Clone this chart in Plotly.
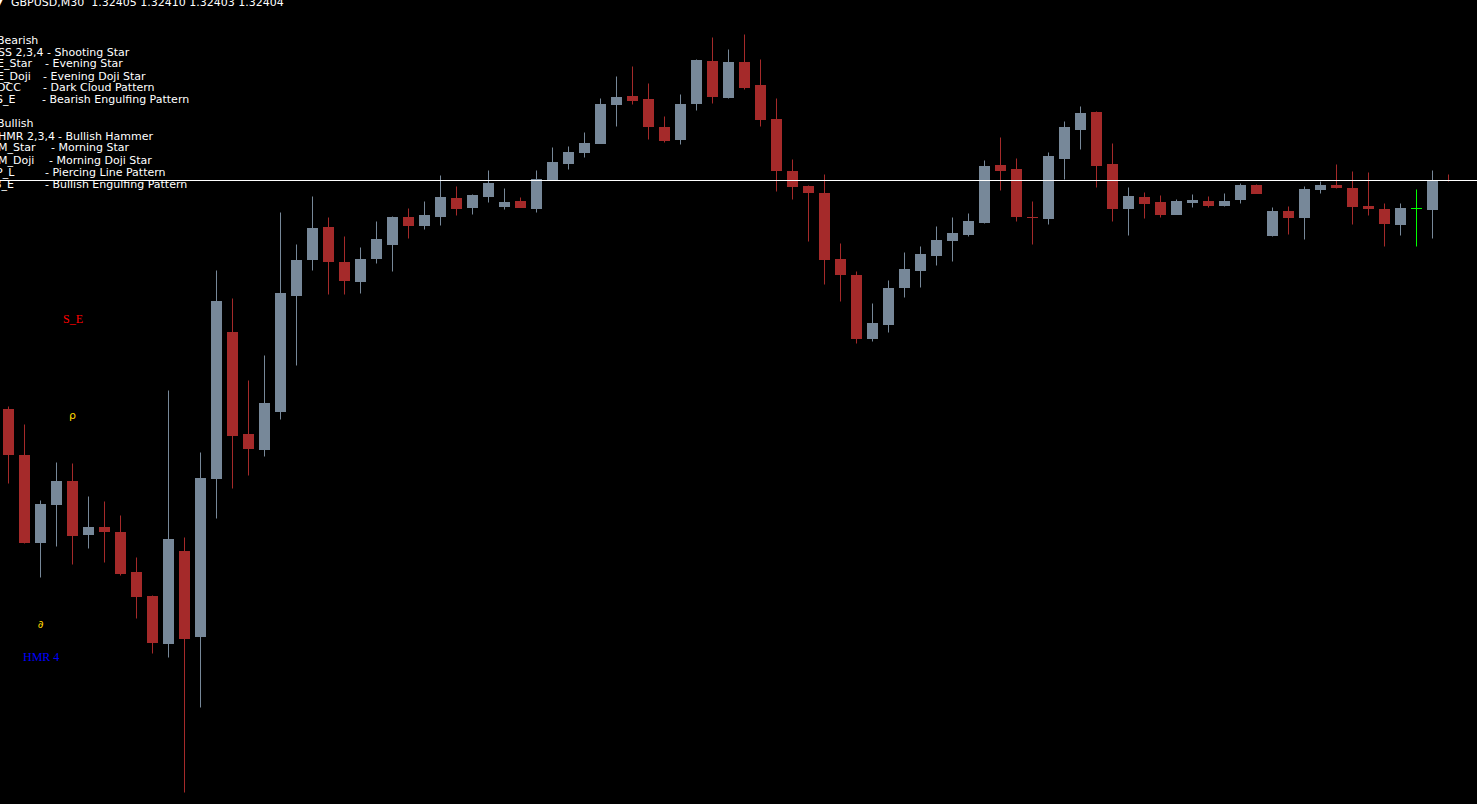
import plotly.graph_objects as go

# ---------------- data (GBPUSD, M30) ----------------
symbol = "GBPUSD,M30"

opens = [1.32176, 1.32130, 1.32042, 1.32080, 1.32104, 1.32050, 1.32058, 1.32053, 1.32013, 1.31989,
         1.31941, 1.32034, 1.31948, 1.32106, 1.32253, 1.32151, 1.32135, 1.32173, 1.32289, 1.32325,
         1.32358, 1.32323, 1.32303, 1.32326, 1.32340, 1.32368, 1.32359, 1.32368, 1.32387, 1.32377,
         1.32388, 1.32378, 1.32384, 1.32376, 1.32405, 1.32421, 1.32432, 1.32441, 1.32480, 1.32489,
         1.32486, 1.32458, 1.32445, 1.32481, 1.32524, 1.32487, 1.32523, 1.32500, 1.32466, 1.32414,
         1.32399, 1.32392, 1.32326, 1.32310, 1.32246, 1.32260, 1.32297, 1.32314, 1.32329, 1.32344,
         1.32350, 1.32362, 1.32420, 1.32416, 1.32368, 1.32366, 1.32426, 1.32455, 1.32473, 1.32421,
         1.32376, 1.32388, 1.32383, 1.32370, 1.32382, 1.32384, 1.32379, 1.32385, 1.32400, 1.32349,
         1.32374, 1.32367, 1.32395, 1.32400, 1.32397, 1.32379, 1.32376, 1.32360, 1.32376, 1.32375,
         1.32405]

highs = [1.32178, 1.32160, 1.32084, 1.32122, 1.32121, 1.32088, 1.32083, 1.32069, 1.32027, 1.31989,
         1.32194, 1.32047, 1.32132, 1.32314, 1.32286, 1.32204, 1.32229, 1.32372, 1.32340, 1.32388,
         1.32367, 1.32348, 1.32337, 1.32363, 1.32368, 1.32376, 1.32383, 1.32409, 1.32398, 1.32390,
         1.32414, 1.32396, 1.32387, 1.32414, 1.32437, 1.32438, 1.32452, 1.32486, 1.32508, 1.32518,
         1.32501, 1.32468, 1.32490, 1.32525, 1.32547, 1.32535, 1.32550, 1.32525, 1.32486, 1.32425,
         1.32399, 1.32410, 1.32341, 1.32313, 1.32281, 1.32304, 1.32332, 1.32338, 1.32358, 1.32367,
         1.32371, 1.32424, 1.32447, 1.32426, 1.32383, 1.32432, 1.32463, 1.32478, 1.32473, 1.32441,
         1.32397, 1.32392, 1.32389, 1.32385, 1.32390, 1.32388, 1.32391, 1.32401, 1.32400, 1.32377,
         1.32378, 1.32398, 1.32403, 1.32420, 1.32413, 1.32412, 1.32381, 1.32381, 1.32395, 1.32414,
         1.32410]

lows = [1.32101, 1.32041, 1.32007, 1.32038, 1.32020, 1.32036, 1.32022, 1.32009, 1.31966, 1.31931,
        1.31927, 1.31792, 1.31877, 1.32066, 1.32096, 1.32109, 1.32128, 1.32165, 1.32219, 1.32314,
        1.32290, 1.32290, 1.32291, 1.32321, 1.32313, 1.32346, 1.32355, 1.32359, 1.32369, 1.32370,
        1.32382, 1.32375, 1.32377, 1.32372, 1.32405, 1.32415, 1.32427, 1.32441, 1.32458, 1.32480,
        1.32445, 1.32442, 1.32440, 1.32474, 1.32481, 1.32486, 1.32495, 1.32458, 1.32393, 1.32385,
        1.32343, 1.32300, 1.32283, 1.32241, 1.32243, 1.32252, 1.32287, 1.32297, 1.32319, 1.32323,
        1.32348, 1.32361, 1.32394, 1.32363, 1.32340, 1.32360, 1.32405, 1.32435, 1.32397, 1.32363,
        1.32349, 1.32366, 1.32367, 1.32370, 1.32377, 1.32377, 1.32378, 1.32381, 1.32391, 1.32348,
        1.32350, 1.32345, 1.32391, 1.32396, 1.32360, 1.32369, 1.32338, 1.32349, 1.32338, 1.32346,
        1.32403]

closes = [1.32130, 1.32042, 1.32081, 1.32104, 1.32049, 1.32058, 1.32053, 1.32011, 1.31988, 1.31942,
          1.32046, 1.31946, 1.32107, 1.32284, 1.32149, 1.32136, 1.32182, 1.32292, 1.32325, 1.32357,
          1.32323, 1.32304, 1.32326, 1.32346, 1.32368, 1.32359, 1.32370, 1.32388, 1.32376, 1.32390,
          1.32402, 1.32383, 1.32377, 1.32406, 1.32423, 1.32433, 1.32442, 1.32481, 1.32488, 1.32484,
          1.32458, 1.32444, 1.32481, 1.32525, 1.32488, 1.32523, 1.32497, 1.32465, 1.32414, 1.32398,
          1.32392, 1.32325, 1.32310, 1.32246, 1.32262, 1.32297, 1.32316, 1.32331, 1.32345, 1.32352,
          1.32364, 1.32419, 1.32414, 1.32368, 1.32367, 1.32429, 1.32458, 1.32472, 1.32419, 1.32376,
          1.32389, 1.32381, 1.32370, 1.32384, 1.32385, 1.32379, 1.32384, 1.32400, 1.32391, 1.32374,
          1.32367, 1.32396, 1.32400, 1.32397, 1.32378, 1.32376, 1.32361, 1.32377, 1.32376, 1.32405,
          1.32404]

# pattern legend (indicator text)
legend_bearish_codes = ["SS 2,3,4", "E_Star", "E_Doji", "DCC", "S_E"]
legend_bearish_descs = ["- Shooting Star", "- Evening Star", "- Evening Doji Star",
                        "- Dark Cloud Pattern", "- Bearish Engulfing Pattern"]
legend_bullish_codes = ["HMR 2,3,4", "M_Star", "M_Doji", "P_L", "B_E"]
legend_bullish_descs = ["- Bullish Hammer", "- Morning Star", "- Morning Doji Star",
                        "- Piercing Line Pattern", "- Bullish Engulfing Pattern"]

# signals drawn on the chart
signal_labels = ["S_E", "HMR 4"]
signal_bars = [4, 2]
signal_prices = [1.32266, 1.31928]
signal_colors = ["#FF0000", "#0000FF"]
arrow_glyphs = ["\u03c1", "\u2202"]
arrow_bars = [4, 2]
arrow_prices = [1.32169, 1.31960]

# ---------------- styling ----------------
W, H = 1477, 804
BULL = "#778899"
BEAR = "#A52A2A"
DOJI = "#00FF00"
BODY_W = 11 / 16
X_RANGE = [-0.53125, 91.78125]
Y_RANGE = [1.317805, 1.325845]

n = len(opens)
idx = list(range(n))

fig = go.Figure()

wick = {BULL: ([], []), BEAR: ([], []), DOJI: ([], [])}
body_x, body_y, body_base, body_col = [], [], [], []
doji_x, doji_y = [], []
for i in idx:
    o, h, l, c = opens[i], highs[i], lows[i], closes[i]
    if round(c - o, 6) > 0:
        col = BULL
    elif round(c - o, 6) < 0:
        col = BEAR
    else:
        col = DOJI
    wick[col][0].extend([i, i, None])
    wick[col][1].extend([l, h, None])
    if col == DOJI:
        doji_x.extend([i - BODY_W / 2, i + BODY_W / 2, None])
        doji_y.extend([c, c, None])
    else:
        body_x.append(i)
        body_y.append(abs(c - o))
        body_base.append(min(o, c))
        body_col.append(col)

for col, (xs, ys) in wick.items():
    if xs:
        fig.add_trace(go.Scatter(x=xs, y=ys, mode="lines",
                                 line=dict(color=col, width=1),
                                 hoverinfo="skip", showlegend=False))

fig.add_trace(go.Bar(x=body_x, y=body_y, base=body_base, width=BODY_W,
                     marker=dict(color=body_col, line=dict(width=0)),
                     hoverinfo="skip", showlegend=False))

if doji_x:
    fig.add_trace(go.Scatter(x=doji_x, y=doji_y, mode="lines",
                             line=dict(color=DOJI, width=1),
                             hoverinfo="skip", showlegend=False))

# bid line
fig.add_shape(type="line", xref="paper", x0=0, x1=1, yref="y",
              y0=closes[-1], y1=closes[-1], line=dict(color="#FFFFFF", width=1))

annotations = []


def px_text(text, x_px, y_mid_px, color="#FFFFFF", size=11, family="DejaVu Sans", anchor="left"):
    annotations.append(dict(
        text=text, xref="paper", yref="paper",
        x=x_px / W, y=1 - y_mid_px / H,
        xanchor=anchor, yanchor="middle", showarrow=False,
        borderpad=0, borderwidth=0,
        font=dict(family=family, size=size, color=color)))


# header
title = f"{symbol} \u00a0{opens[-1]:.5f} {highs[-1]:.5f} {lows[-1]:.5f} {closes[-1]:.5f}"
px_text(title, 11, 3)
px_text("\u25bc", -5, 2, size=10)

# legend blocks
px_text("Bearish", -3.5, 40)
bear_code_x = [-2, -3, -3, -3.5, -4]
bear_desc_x = [47, 44.5, 42.5, 42.5, 41.5]
for k, (cd, ds) in enumerate(zip(legend_bearish_codes, legend_bearish_descs)):
    y = 52 + 12 * k
    px_text(cd, bear_code_x[k], y)
    px_text(ds, bear_desc_x[k], y)

px_text("Bullish", -3.5, 124)
bull_code_x = [-2, -2.5, -2.5, -3.7, -6]
bull_desc_x = [57.5, 50.5, 48.5, 45, 45]
for k, (cd, ds) in enumerate(zip(legend_bullish_codes, legend_bullish_descs)):
    y = 136 + 12 * k
    px_text(cd, bull_code_x[k], y)
    px_text(ds, bull_desc_x[k], y)

# chart signals (data coordinates)
for lab, b, p, col in zip(signal_labels, signal_bars, signal_prices, signal_colors):
    annotations.append(dict(text=lab, x=b, y=p, xref="x", yref="y", showarrow=False,
                            xanchor="center", yanchor="middle", borderpad=0,
                            font=dict(family="Liberation Serif", size=12, color=col)))
for g, b, p in zip(arrow_glyphs, arrow_bars, arrow_prices):
    annotations.append(dict(text=g, x=b, y=p, xref="x", yref="y", showarrow=False,
                            xanchor="center", yanchor="middle", borderpad=0,
                            font=dict(family="DejaVu Sans", size=11, color="#FFD700")))

fig.update_layout(
    width=W, height=H, autosize=False,
    margin=dict(l=0, r=0, t=0, b=0, pad=0),
    paper_bgcolor="#000000", plot_bgcolor="#000000",
    showlegend=False, hovermode=False,
    barmode="overlay", bargap=0, bargroupgap=0,
    xaxis=dict(range=X_RANGE, visible=False, fixedrange=True),
    yaxis=dict(range=Y_RANGE, visible=False, fixedrange=True),
    annotations=annotations,
)

fig.write_html("out.html", config={"displayModeBar": False, "staticPlot": True},
               post_script="document.body.style.margin='0';document.body.style.overflow='hidden';")
